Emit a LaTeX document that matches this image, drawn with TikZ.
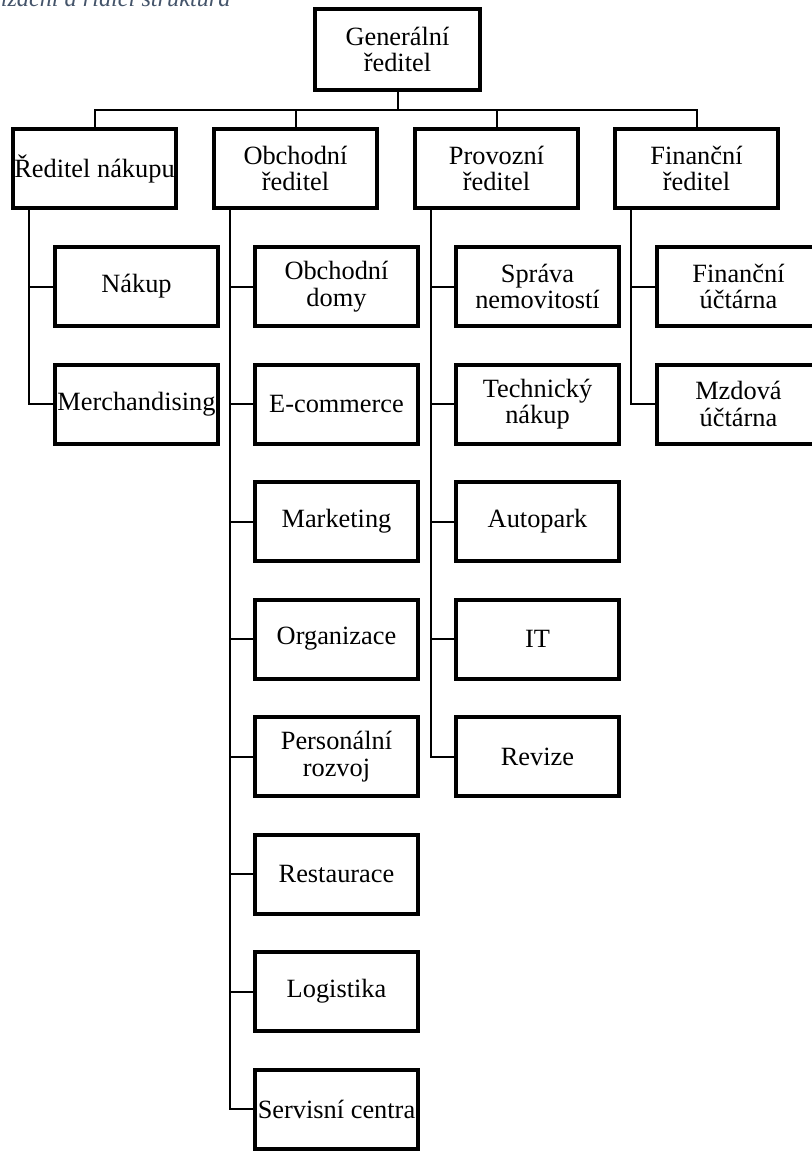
\documentclass[tikz,border=0pt]{standalone}
\usepackage{fontspec}
\setmainfont{Liberation Serif}
\definecolor{popisek}{HTML}{44546A}
\begin{document}
\begin{tikzpicture}[x=0.2mm,y=-0.2mm,
  box/.style={draw,line width=0.8mm,minimum width=32.6mm,minimum height=15.8mm,
    inner sep=0pt,align=center,font=\fontsize{15}{15.2}\selectfont},
  conn/.style={line width=0.4mm},
  popis/.style={font=\fontsize{13.8}{16}\selectfont\itshape,text=popisek,inner sep=0pt}]
\useasboundingbox (0,0) rectangle (812,1151);
%\draw[step=1cm,very thin,color=gray] (0,0) grid (812,1151);
\node[popis,anchor=base west] (titul) at (-62,6) {Organizační a řídicí struktura};
% vedeni
\node[box,minimum width=33mm,minimum height=16.2mm] (gr) at (397.5,49.5) {Generální\\ředitel};
\node[box] (rn) at (94.5,168.5) {Ředitel nákupu};
\node[box] (or) at (295.5,168.5) {Obchodní\\ředitel};
\node[box] (pr) at (496.5,168.5) {Provozní\\ředitel};
\node[box] (fr) at (696.5,168.5) {Finanční\\ředitel};
\draw[conn] (gr.south) -- ++(0,17.5) -| (rn.north);
\draw[conn] (gr.south) -- ++(0,17.5) -| (or.north);
\draw[conn] (gr.south) -- ++(0,17.5) -| (pr.north);
\draw[conn] (gr.south) -- ++(0,17.5) -| (fr.north);
% nakup
\node[box] (nakup) at (136.5,286.5) {Nákup};
\node[box] (merch) at (136.5,404) {Merchandising};
\draw[conn] ([xshift=3.6mm]rn.south west) |- (nakup.west);
\draw[conn] ([xshift=3.6mm]rn.south west) |- (merch.west);
% obchod
\node[box] (domy) at (336.5,286.5) {Obchodní\\domy};
\node[box] (ecom) at (336.5,404) {E-commerce};
\node[box] (mark) at (336.5,521.5) {Marketing};
\node[box] (orga) at (336.5,639) {Organizace};
\node[box] (pers) at (336.5,756.5) {Personální\\rozvoj};
\node[box] (rest) at (336.5,874) {Restaurace};
\node[box] (logi) at (336.5,991.5) {Logistika};
\node[box] (serv) at (336.5,1109) {Servisní centra};
\draw[conn] ([xshift=3.6mm]or.south west) |- (domy.west);
\draw[conn] ([xshift=3.6mm]or.south west) |- (ecom.west);
\draw[conn] ([xshift=3.6mm]or.south west) |- (mark.west);
\draw[conn] ([xshift=3.6mm]or.south west) |- (orga.west);
\draw[conn] ([xshift=3.6mm]or.south west) |- (pers.west);
\draw[conn] ([xshift=3.6mm]or.south west) |- (rest.west);
\draw[conn] ([xshift=3.6mm]or.south west) |- (logi.west);
\draw[conn] ([xshift=3.6mm]or.south west) |- (serv.west);
% provoz
\node[box] (sprava) at (537.5,286.5) {Správa\\nemovitostí};
\node[box] (tech) at (537.5,404) {Technický\\nákup};
\node[box] (auto) at (537.5,521.5) {Autopark};
\node[box] (it) at (537.5,639) {IT};
\node[box] (rev) at (537.5,756.5) {Revize};
\draw[conn] ([xshift=3.6mm]pr.south west) |- (sprava.west);
\draw[conn] ([xshift=3.6mm]pr.south west) |- (tech.west);
\draw[conn] ([xshift=3.6mm]pr.south west) |- (auto.west);
\draw[conn] ([xshift=3.6mm]pr.south west) |- (it.west);
\draw[conn] ([xshift=3.6mm]pr.south west) |- (rev.west);
% finance
\node[box] (fu) at (738.5,286.5) {Finanční\\účtárna};
\node[box] (mu) at (738.5,404) {Mzdová\\účtárna};
\draw[conn] ([xshift=3.6mm]fr.south west) |- (fu.west);
\draw[conn] ([xshift=3.6mm]fr.south west) |- (mu.west);
\end{tikzpicture}
\end{document}
